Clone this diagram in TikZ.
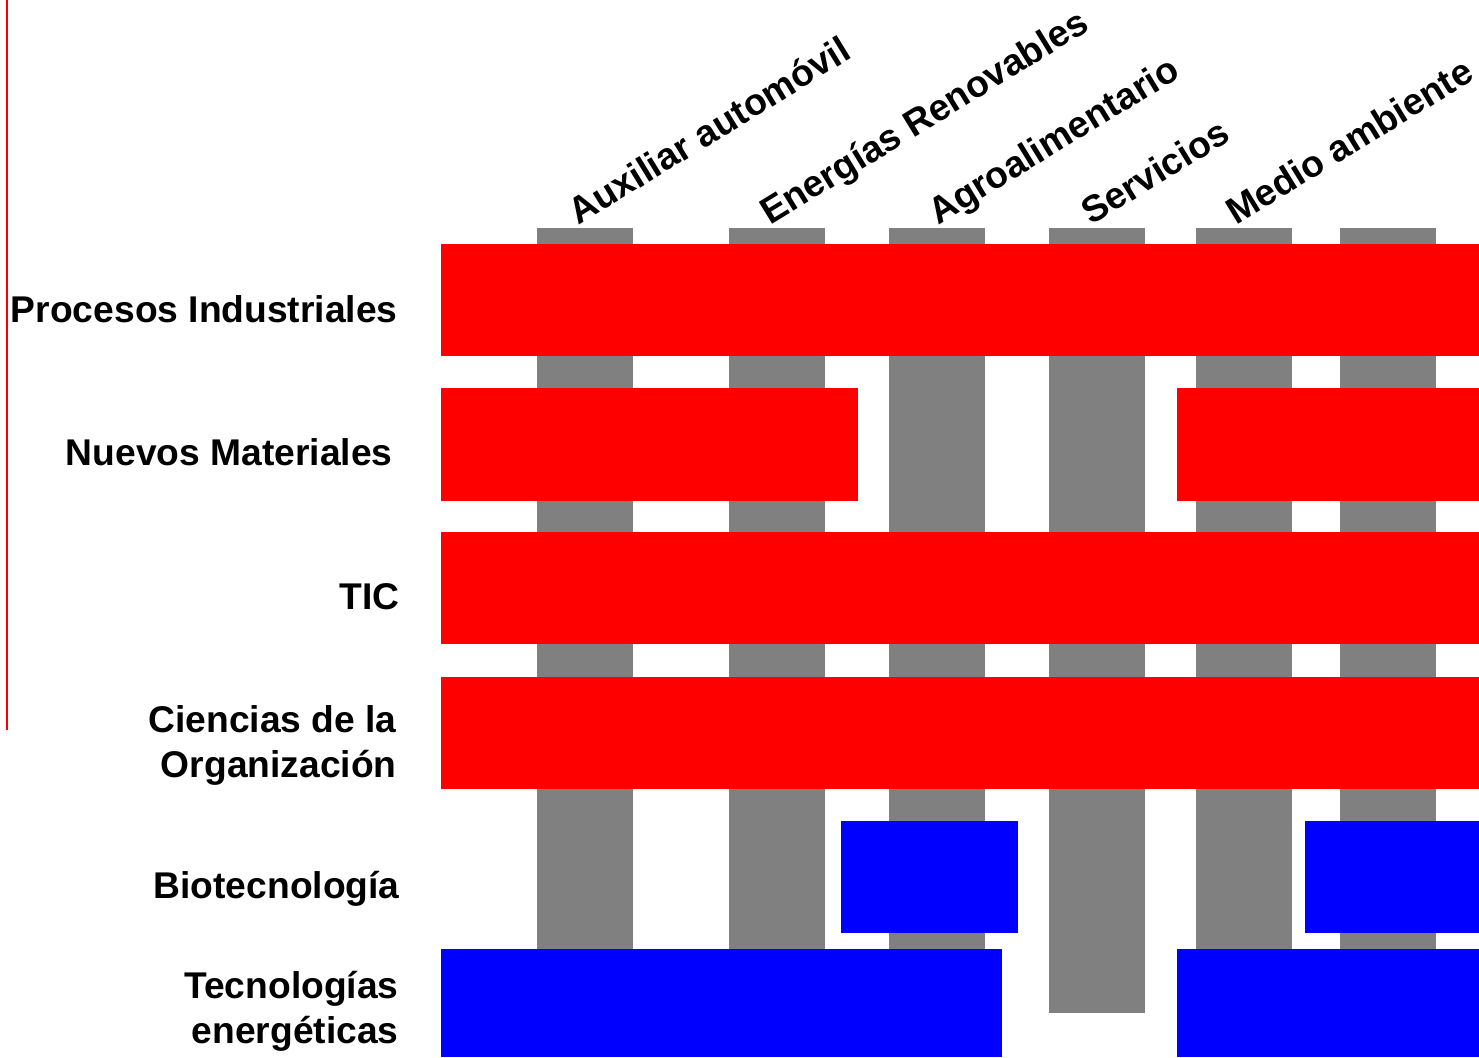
\documentclass[tikz,border=0pt]{standalone}
\usepackage{fontspec}
\setmainfont{Liberation Sans}
\definecolor{barra}{RGB}{128,128,128}
\tikzset{
    etiqueta/.style={font=\bfseries\fontsize{18.6}{22.5}\selectfont, inner sep=0pt},
    fila/.style={etiqueta, anchor=base east, align=right},
    columna/.style={etiqueta, anchor=base west, rotate=31.5},
}
\begin{document}
\begin{tikzpicture}[x=0.5pt,y=-0.5pt]
            \useasboundingbox (0,0) rectangle (1479,1057);
            \draw[red, line width=1pt] (7,0) -- (7,730);
            % columnas
            \foreach \x in {537, 729, 889, 1196, 1340}
                \fill[barra] (\x,228) rectangle (\x+96,1057);
            \fill[barra] (1049,228) rectangle (1145,1013);
            % filas rojas
            \foreach \y in {244, 532, 677}
                \fill[red] (441,\y) rectangle (1479,\y+112);
            \fill[red] (441,388) rectangle (858,501);
            \fill[red] (1177,388) rectangle (1479,501);
            % filas azules
            \fill[blue] (841,821) rectangle (1018,933);
            \fill[blue] (1305,821) rectangle (1479,933);
            \fill[blue] (441,949) rectangle (1002,1057);
            \fill[blue] (1177,949) rectangle (1479,1057);
            % etiquetas de las filas
            \node[fila] (proc) at (398,322) {Procesos Industriales};
            \node[fila] (mat) at (393,465) {Nuevos Materiales};
            \node[fila] (tic) at (400,609) {TIC};
            \node[fila] (org) at (397,777) {Ciencias de la\\Organización};
            \node[fila] (bio) at (400,898) {Biotecnología};
            \node[fila] (ener) at (399,1043) {Tecnologías\\energéticas};
            % etiquetas de las columnas
            \node[columna] (auto) at (578,226) {Auxiliar automóvil};
            \node[columna] (renov) at (770,226) {Energías Renovables};
            \node[columna] (agro) at (938,226) {Agroalimentario};
            \node[columna] (serv) at (1091,226) {Servicios};
            \node[columna] (medio) at (1236,226) {Medio ambiente};
        \end{tikzpicture}
\end{document}
